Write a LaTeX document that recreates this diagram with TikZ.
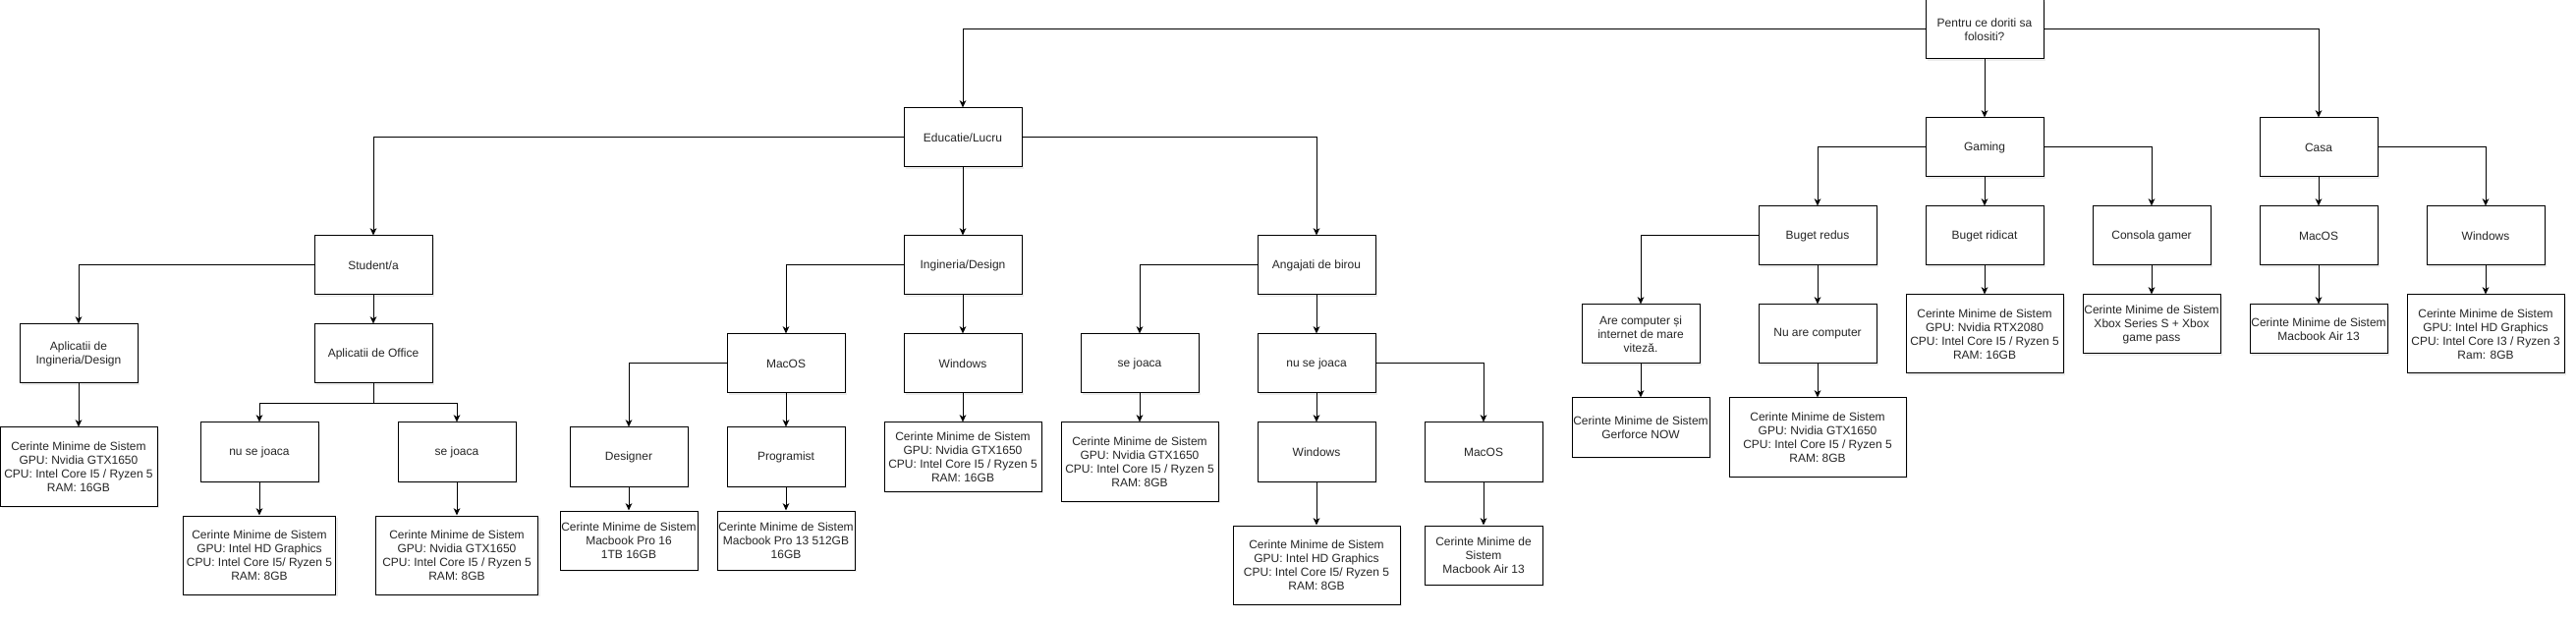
\documentclass[tikz,border=0pt]{standalone}
\usepackage{fontspec}
\setmainfont{Liberation Sans}
\usetikzlibrary{arrows.meta,shadows}
\begin{document}
\begin{tikzpicture}[x=0.75pt,y=-0.75pt,
  nbox/.style={draw, fill=white, line width=0.75pt, align=center, inner sep=0pt,
    font=\fontsize{9}{10.5}\selectfont, text=black!85,
    drop shadow={shadow xshift=1.8pt, shadow yshift=-1.8pt, fill=black!15}},
  sz/.style 2 args={minimum width=#1*0.75pt, minimum height=#2*0.75pt},
  arr/.style={draw, line width=0.75pt, -{Stealth[length=5.5pt,width=5pt,inset=1.6pt]}}]
\useasboundingbox (0,0) rectangle (2622,630);

% level 0
\node[nbox, sz={120}{60}] (pentru) at (2020,30) {Pentru ce doriti sa\\folositi?};
% level 1
\node[nbox, sz={120}{60}] (edu) at (980,140) {Educatie/Lucru};
\node[nbox, sz={120}{60}] (gam) at (2020,150) {Gaming};
\node[nbox, sz={120}{60}] (casa) at (2360,150) {Casa};
% education branch
\node[nbox, sz={120}{60}] (stud) at (380,270) {Student/a};
\node[nbox, sz={120}{60}] (ing) at (980,270) {Ingineria/Design};
\node[nbox, sz={120}{60}] (ang) at (1340,270) {Angajati de birou};

\node[nbox, sz={120}{60}] (apling) at (80,360) {Aplicatii de\\Ingineria/Design};
\node[nbox, sz={120}{60}] (off) at (380,360) {Aplicatii de Office};
\node[nbox, sz={160}{80}] (cA) at (80,475) {Cerinte Minime de Sistem\\GPU: Nvidia GTX1650\\CPU: Intel Core I5 / Ryzen 5\\RAM: 16GB};
\node[nbox, sz={120}{60}] (nsjS) at (264,460) {nu se joaca};
\node[nbox, sz={120}{60}] (sjS) at (465,460) {se joaca};
\node[nbox, sz={155}{80}] (cnsjS) at (264,565) {Cerinte Minime de Sistem\\GPU: Intel HD Graphics\\CPU: Intel Core I5/ Ryzen 5\\RAM: 8GB};
\node[nbox, sz={165}{80}] (csjS) at (465,565) {Cerinte Minime de Sistem\\GPU: Nvidia GTX1650\\CPU: Intel Core I5 / Ryzen 5\\RAM: 8GB};

\node[nbox, sz={120}{60}] (macI) at (800,370) {MacOS};
\node[nbox, sz={120}{60}] (winI) at (980,370) {Windows};
\node[nbox, sz={120}{60}] (des) at (640,465) {Designer};
\node[nbox, sz={120}{60}] (prog) at (800,465) {Programist};
\node[nbox, sz={140}{60}] (cdes) at (640,550) {Cerinte Minime de Sistem\\Macbook Pro 16\\1TB 16GB};
\node[nbox, sz={140}{60}] (cprog) at (800,550) {Cerinte Minime de Sistem\\Macbook Pro 13 512GB\\16GB};
\node[nbox, sz={160}{70}] (cwinI) at (980,465) {Cerinte Minime de Sistem\\GPU: Nvidia GTX1650\\CPU: Intel Core I5 / Ryzen 5\\RAM: 16GB};

\node[nbox, sz={120}{60}] (sjA) at (1160,370) {se joaca};
\node[nbox, sz={160}{80}] (csjA) at (1160,470) {Cerinte Minime de Sistem\\GPU: Nvidia GTX1650\\CPU: Intel Core I5 / Ryzen 5\\RAM: 8GB};
\node[nbox, sz={120}{60}] (nsjA) at (1340,370) {nu se joaca};
\node[nbox, sz={120}{60}] (winA) at (1340,460) {Windows};
\node[nbox, sz={120}{60}] (macA) at (1510,460) {MacOS};
\node[nbox, sz={170}{80}] (cwinA) at (1340,575) {Cerinte Minime de Sistem\\GPU: Intel HD Graphics\\CPU: Intel Core I5/ Ryzen 5\\RAM: 8GB};
\node[nbox, sz={120}{60}] (cmacA) at (1510,565) {Cerinte Minime de\\Sistem\\Macbook Air 13};

% gaming branch
\node[nbox, sz={120}{60}] (bred) at (1850,240) {Buget redus};
\node[nbox, sz={120}{60}] (brid) at (2020,240) {Buget ridicat};
\node[nbox, sz={120}{60}] (cons) at (2190,240) {Consola gamer};
\node[nbox, sz={120}{60}] (are) at (1670,340) {Are computer și\\internet de mare\\viteză.};
\node[nbox, sz={120}{60}] (nuare) at (1850,340) {Nu are computer};
\node[nbox, sz={140}{60}] (cgf) at (1670,435) {Cerinte Minime de Sistem\\Gerforce NOW};
\node[nbox, sz={180}{80}] (cnuare) at (1850,445) {Cerinte Minime de Sistem\\GPU: Nvidia GTX1650\\CPU: Intel Core I5 / Ryzen 5\\RAM: 8GB};
\node[nbox, sz={160}{80}] (cbrid) at (2020,340) {Cerinte Minime de Sistem\\GPU: Nvidia RTX2080\\CPU: Intel Core I5 / Ryzen 5\\RAM: 16GB};
\node[nbox, sz={140}{60}] (ccons) at (2190,330) {Cerinte Minime de Sistem\\Xbox Series S + Xbox\\game pass};

% casa branch
\node[nbox, sz={120}{60}] (macC) at (2360,240) {MacOS};
\node[nbox, sz={120}{60}] (winC) at (2530,240) {Windows};
\node[nbox, sz={140}{50}] (cmacC) at (2360,335) {Cerinte Minime de Sistem\\Macbook Air 13};
\node[nbox, sz={160}{80}] (cwinC) at (2530,340) {Cerinte Minime de Sistem\\GPU: Intel HD Graphics\\CPU: Intel Core I3 / Ryzen 3\\Ram: 8GB};

% connectors
\draw[arr] (pentru.west) -| (edu.north);
\draw[arr] (pentru.south) -- (gam.north);
\draw[arr] (pentru.east) -| (casa.north);

\draw[arr] (edu.west) -| (stud.north);
\draw[arr] (edu.south) -- (ing.north);
\draw[arr] (edu.east) -| (ang.north);

\draw[arr] (stud.west) -| (apling.north);
\draw[arr] (stud.south) -- (off.north);
\draw[arr] (apling.south) -- (cA.north);
\draw[arr] (off.south) -- ++(0,20) -| (nsjS.north);
\draw[arr] (off.south) -- ++(0,20) -| (sjS.north);
\draw[arr] (nsjS.south) -- (cnsjS.north);
\draw[arr] (sjS.south) -- (csjS.north);

\draw[arr] (ing.west) -| (macI.north);
\draw[arr] (ing.south) -- (winI.north);
\draw[arr] (macI.west) -| (des.north);
\draw[arr] (macI.south) -- (prog.north);
\draw[arr] (des.south) -- (cdes.north);
\draw[arr] (prog.south) -- (cprog.north);
\draw[arr] (winI.south) -- (cwinI.north);

\draw[arr] (ang.west) -| (sjA.north);
\draw[arr] (ang.south) -- (nsjA.north);
\draw[arr] (sjA.south) -- (csjA.north);
\draw[arr] (nsjA.south) -- (winA.north);
\draw[arr] (nsjA.east) -| (macA.north);
\draw[arr] (winA.south) -- (cwinA.north);
\draw[arr] (macA.south) -- (cmacA.north);

\draw[arr] (gam.west) -| (bred.north);
\draw[arr] (gam.south) -- (brid.north);
\draw[arr] (gam.east) -| (cons.north);
\draw[arr] (bred.west) -| (are.north);
\draw[arr] (bred.south) -- (nuare.north);
\draw[arr] (are.south) -- (cgf.north);
\draw[arr] (nuare.south) -- (cnuare.north);
\draw[arr] (brid.south) -- (cbrid.north);
\draw[arr] (cons.south) -- (ccons.north);

\draw[arr] (casa.south) -- (macC.north);
\draw[arr] (casa.east) -| (winC.north);
\draw[arr] (macC.south) -- (cmacC.north);
\draw[arr] (winC.south) -- (cwinC.north);
\end{tikzpicture}
\end{document}
